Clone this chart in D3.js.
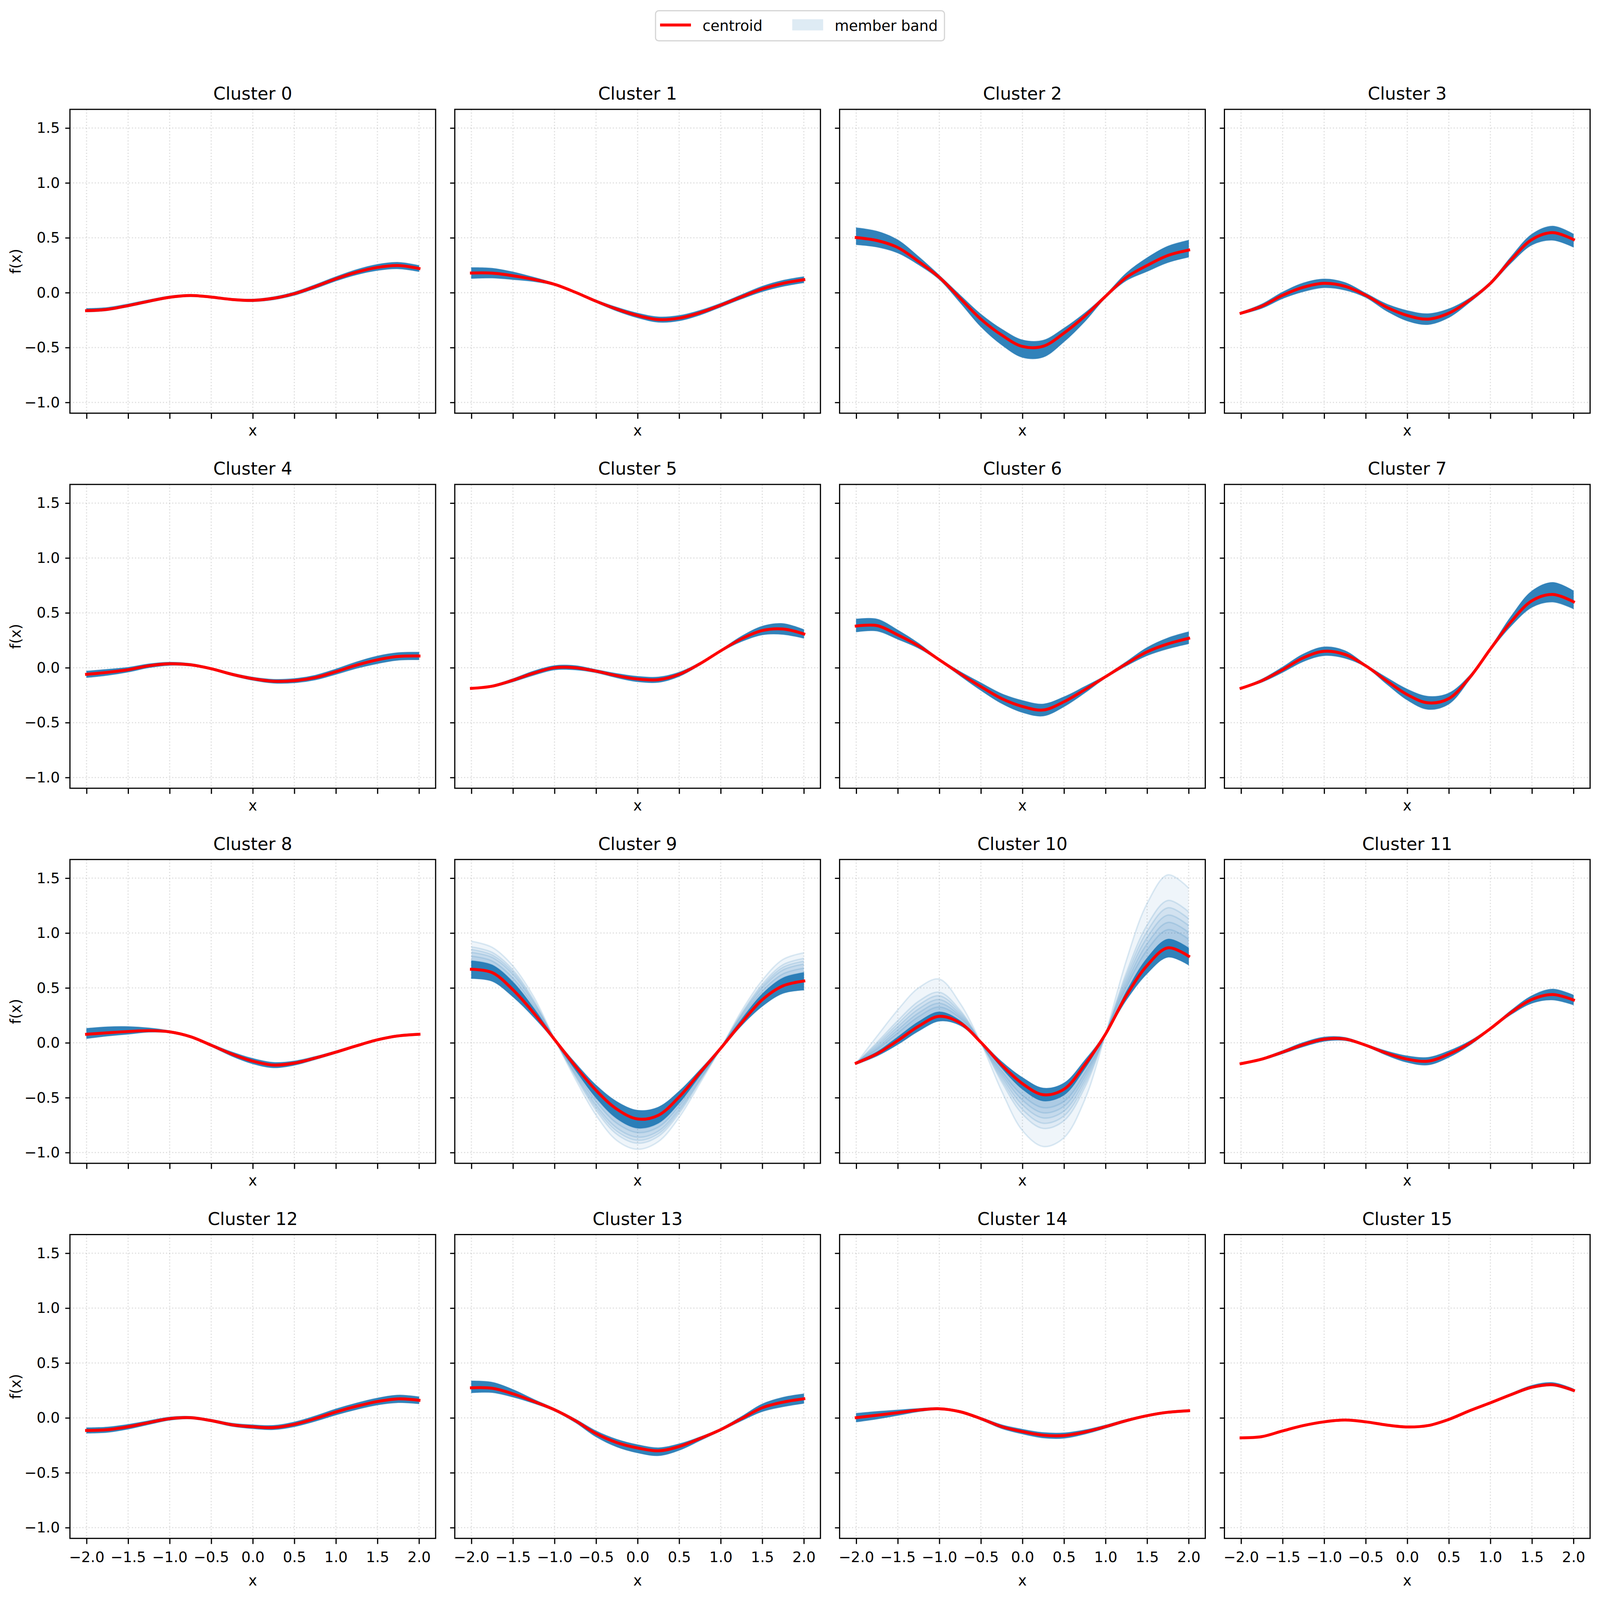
<!DOCTYPE html>
<html><head><meta charset="utf-8">
<script src="https://cdn.jsdelivr.net/npm/d3@7"></script>
<style>
html,body{margin:0;padding:0;background:#fff;overflow:hidden}
svg{display:block}
text{font-family:"DejaVu Sans",sans-serif;fill:#000}
</style>
</head><body>
<svg id="c"></svg>
<script>
// ---------------- data ----------------
const xGrid = [-2,-1.75,-1.5,-1.25,-1,-0.75,-0.5,-0.25,0,0.25,0.5,0.75,1,1.25,1.5,1.75,2];
const xTicks = [-2,-1.5,-1,-0.5,0,0.5,1,1.5,2];
const yTicks = [-1,-0.5,0,0.5,1,1.5];
const clusterNames = d3.range(16).map(i => "Cluster " + i);
const legendLabels = ["centroid", "member band"];

const centroids = [
  [-0.164,-0.152,-0.118,-0.078,-0.042,-0.026,-0.040,-0.062,-0.070,-0.051,-0.009,0.055,0.126,0.187,0.230,0.247,0.220],
  [0.179,0.178,0.154,0.121,0.076,0.004,-0.078,-0.150,-0.208,-0.245,-0.232,-0.183,-0.114,-0.038,0.034,0.085,0.118],
  [0.502,0.475,0.411,0.284,0.139,-0.051,-0.241,-0.386,-0.490,-0.488,-0.368,-0.214,-0.033,0.139,0.248,0.339,0.388],
  [-0.187,-0.123,-0.024,0.049,0.085,0.058,-0.024,-0.132,-0.208,-0.241,-0.187,-0.069,0.085,0.300,0.484,0.547,0.484],
  [-0.060,-0.042,-0.018,0.018,0.036,0.027,-0.009,-0.060,-0.100,-0.123,-0.118,-0.090,-0.036,0.024,0.072,0.103,0.107],
  [-0.188,-0.168,-0.114,-0.049,0.000,0.000,-0.031,-0.072,-0.103,-0.109,-0.060,0.036,0.154,0.263,0.339,0.353,0.308],
  [0.380,0.384,0.299,0.199,0.072,-0.054,-0.172,-0.281,-0.353,-0.385,-0.310,-0.200,-0.082,0.036,0.145,0.217,0.268],
  [-0.187,-0.118,-0.018,0.091,0.150,0.121,0.018,-0.118,-0.245,-0.320,-0.281,-0.090,0.170,0.420,0.610,0.668,0.601],
  [0.078,0.091,0.103,0.111,0.100,0.056,-0.022,-0.103,-0.167,-0.203,-0.185,-0.139,-0.085,-0.027,0.027,0.063,0.078],
  [0.670,0.640,0.483,0.272,0.030,-0.211,-0.433,-0.604,-0.694,-0.660,-0.493,-0.272,-0.050,0.181,0.392,0.519,0.563],
  [-0.185,-0.100,0.020,0.151,0.241,0.181,0.004,-0.201,-0.372,-0.473,-0.423,-0.200,0.080,0.430,0.704,0.865,0.789],
  [-0.190,-0.149,-0.085,-0.016,0.033,0.035,-0.022,-0.094,-0.149,-0.167,-0.103,-0.004,0.129,0.277,0.395,0.440,0.390],
  [-0.115,-0.108,-0.081,-0.043,-0.007,0.002,-0.025,-0.063,-0.081,-0.088,-0.059,-0.007,0.054,0.106,0.149,0.173,0.160],
  [0.274,0.270,0.219,0.150,0.074,-0.025,-0.143,-0.225,-0.274,-0.300,-0.261,-0.188,-0.107,-0.007,0.092,0.143,0.174],
  [0.002,0.024,0.047,0.071,0.083,0.056,-0.007,-0.080,-0.125,-0.158,-0.161,-0.129,-0.080,-0.025,0.020,0.051,0.065],
  [-0.182,-0.171,-0.119,-0.070,-0.036,-0.020,-0.036,-0.065,-0.083,-0.070,-0.014,0.065,0.137,0.212,0.279,0.302,0.250]
];

// spread of the dense member band above / below the centroid
const bandUp = [
  [0.02,0.018,0.016,0.014,0.012,0.01,0.01,0.01,0.012,0.014,0.016,0.018,0.02,0.024,0.028,0.03,0.028],
  [0.05,0.045,0.035,0.02,0.01,0.01,0.012,0.018,0.022,0.025,0.025,0.022,0.018,0.02,0.025,0.028,0.028],
  [0.09,0.085,0.07,0.045,0.02,0.03,0.045,0.055,0.06,0.055,0.045,0.03,0.015,0.04,0.07,0.085,0.09],
  [0.01,0.02,0.03,0.04,0.04,0.035,0.02,0.03,0.045,0.05,0.04,0.02,0.015,0.03,0.05,0.06,0.05],
  [0.03,0.028,0.022,0.018,0.015,0.012,0.01,0.012,0.015,0.018,0.02,0.022,0.025,0.03,0.035,0.035,0.035],
  [0.005,0.01,0.015,0.02,0.02,0.02,0.015,0.02,0.025,0.025,0.02,0.012,0.01,0.025,0.04,0.05,0.04],
  [0.064,0.06,0.045,0.025,0.01,0.02,0.035,0.045,0.055,0.055,0.045,0.03,0.012,0.02,0.04,0.055,0.06],
  [0.005,0.015,0.025,0.035,0.04,0.035,0.012,0.03,0.05,0.06,0.05,0.02,0.015,0.05,0.09,0.11,0.10],
  [0.054,0.055,0.045,0.025,0.01,0.01,0.012,0.02,0.025,0.025,0.02,0.015,0.012,0.01,0.01,0.01,0.01],
  [0.077,0.069,0.071,0.044,0.015,0.03,0.048,0.069,0.08,0.075,0.053,0.027,0.015,0.033,0.053,0.072,0.077],
  [0.012,0.019,0.034,0.042,0.041,0.021,0.012,0.031,0.056,0.061,0.057,0.042,0.012,0.038,0.068,0.08,0.075],
  [0.005,0.01,0.015,0.02,0.02,0.015,0.01,0.02,0.03,0.035,0.03,0.02,0.01,0.02,0.035,0.05,0.045],
  [0.025,0.025,0.022,0.018,0.015,0.012,0.012,0.015,0.018,0.02,0.022,0.025,0.028,0.03,0.032,0.035,0.032],
  [0.063,0.055,0.04,0.02,0.012,0.015,0.025,0.03,0.03,0.028,0.025,0.015,0.012,0.02,0.035,0.045,0.045],
  [0.04,0.035,0.025,0.015,0.01,0.01,0.012,0.018,0.022,0.025,0.025,0.02,0.015,0.012,0.01,0.01,0.01],
  [0.005,0.005,0.005,0.005,0.005,0.005,0.005,0.005,0.006,0.008,0.01,0.01,0.01,0.012,0.018,0.02,0.015]
];
const bandDown = [
  [0.012,0.012,0.012,0.012,0.01,0.01,0.01,0.01,0.012,0.014,0.016,0.018,0.02,0.024,0.028,0.03,0.028],
  [0.05,0.045,0.035,0.02,0.01,0.01,0.012,0.018,0.022,0.025,0.025,0.022,0.018,0.02,0.025,0.028,0.028],
  [0.065,0.06,0.05,0.03,0.02,0.04,0.07,0.09,0.1,0.1,0.08,0.05,0.015,0.03,0.055,0.065,0.065],
  [0.01,0.02,0.03,0.04,0.04,0.035,0.02,0.035,0.05,0.05,0.04,0.02,0.015,0.03,0.05,0.07,0.07],
  [0.03,0.028,0.022,0.018,0.015,0.012,0.01,0.012,0.015,0.018,0.02,0.022,0.025,0.03,0.035,0.035,0.035],
  [0.005,0.01,0.015,0.02,0.02,0.02,0.015,0.02,0.025,0.025,0.02,0.012,0.01,0.025,0.04,0.05,0.04],
  [0.054,0.05,0.04,0.022,0.01,0.02,0.035,0.045,0.055,0.055,0.045,0.03,0.012,0.02,0.035,0.045,0.05],
  [0.005,0.015,0.025,0.035,0.04,0.035,0.012,0.03,0.05,0.06,0.05,0.02,0.015,0.04,0.06,0.07,0.065],
  [0.04,0.03,0.025,0.015,0.01,0.01,0.012,0.02,0.025,0.025,0.02,0.015,0.012,0.01,0.01,0.01,0.01],
  [0.085,0.08,0.065,0.04,0.015,0.036,0.068,0.086,0.083,0.072,0.056,0.029,0.015,0.026,0.06,0.069,0.083],
  [0.012,0.021,0.036,0.045,0.044,0.023,0.012,0.029,0.051,0.057,0.053,0.038,0.012,0.042,0.074,0.086,0.081],
  [0.005,0.01,0.015,0.02,0.02,0.015,0.01,0.02,0.03,0.035,0.03,0.02,0.01,0.02,0.035,0.05,0.045],
  [0.025,0.025,0.022,0.018,0.015,0.012,0.012,0.015,0.018,0.02,0.022,0.025,0.028,0.03,0.032,0.035,0.032],
  [0.046,0.04,0.03,0.018,0.012,0.018,0.03,0.04,0.045,0.045,0.035,0.02,0.012,0.02,0.035,0.042,0.042],
  [0.04,0.035,0.025,0.015,0.01,0.01,0.012,0.018,0.022,0.025,0.025,0.02,0.015,0.012,0.01,0.01,0.01],
  [0.005,0.005,0.005,0.005,0.005,0.005,0.005,0.005,0.006,0.008,0.008,0.008,0.008,0.01,0.012,0.012,0.012]
];

// sparse wide-amplitude members (faint lines) in clusters 9 and 10
const c9Members = [
  [0.747,0.709,0.554,0.316,0.032,-0.247,-0.501,-0.690,-0.777,-0.732,-0.549,-0.301,-0.050,0.214,0.445,0.591,0.640],
  [0.790,0.745,0.590,0.338,0.033,-0.265,-0.535,-0.733,-0.818,-0.768,-0.577,-0.316,-0.050,0.230,0.472,0.628,0.680],
  [0.823,0.778,0.625,0.361,0.033,-0.282,-0.569,-0.776,-0.860,-0.804,-0.605,-0.331,-0.050,0.246,0.499,0.664,0.717],
  [0.850,0.800,0.645,0.375,0.034,-0.294,-0.592,-0.805,-0.888,-0.828,-0.624,-0.340,-0.050,0.257,0.516,0.688,0.743],
  [0.874,0.824,0.665,0.390,0.034,-0.306,-0.615,-0.833,-0.915,-0.852,-0.643,-0.350,-0.050,0.268,0.534,0.712,0.769],
  [0.925,0.870,0.700,0.420,0.035,-0.330,-0.660,-0.890,-0.970,-0.900,-0.680,-0.370,-0.050,0.290,0.570,0.760,0.820]
];
const c10Members = [
  [-0.185,-0.060,0.090,0.238,0.326,0.226,0.003,-0.261,-0.479,-0.591,-0.534,-0.280,0.080,0.510,0.846,1.031,0.944],
  [-0.185,-0.045,0.118,0.272,0.360,0.244,0.002,-0.285,-0.522,-0.638,-0.578,-0.312,0.080,0.542,0.902,1.097,1.006],
  [-0.185,-0.028,0.146,0.308,0.394,0.262,0.002,-0.309,-0.565,-0.685,-0.622,-0.344,0.080,0.574,0.959,1.164,1.068],
  [-0.185,-0.012,0.174,0.343,0.428,0.280,0.001,-0.333,-0.608,-0.733,-0.666,-0.376,0.080,0.606,1.015,1.230,1.130],
  [-0.185,0.004,0.202,0.378,0.461,0.297,0.001,-0.356,-0.650,-0.780,-0.710,-0.408,0.080,0.638,1.072,1.297,1.193],
  [-0.185,0.060,0.300,0.500,0.580,0.360,0.000,-0.440,-0.800,-0.945,-0.865,-0.520,0.080,0.750,1.270,1.530,1.410]
];
const extraMembers = {9: c9Members, 10: c10Members};

// ---------------- layout (reference frame 5010 x 4155, fitted to the viewport) ----------------
const VW = window.innerWidth || 5010, VH = window.innerHeight || 4155;
const sx = VW / 5010, sy = VH / 4155, sf = Math.sqrt(sx * sy);
const W = 1145 * sx, H = 789 * sy;
const colLeft = c => (219 + 1205 * c) * sx;
const rowTop = r => (284 + 974 * r) * sy;
const PT = 300 / 72;           // px per point in reference frame
const fsTick = 10 * PT * sf, fsTitle = 12 * PT * sf;
const lw = 0.8 * PT * sf;
const blue = "#1f77b4";

const svg = d3.select("#c").attr("width", VW).attr("height", VH);
svg.append("rect").attr("width", VW).attr("height", VH).attr("fill", "#fff");

const x = d3.scaleLinear().domain([-2.2, 2.2]).range([0, W]);
const y = d3.scaleLinear().domain([-1.098, 1.67]).range([H, 0]);
const fmt = d3.format(".1f");
const curve = d3.curveCatmullRom.alpha(0.5);

const line = d3.line().x(d => x(d.x)).y(d => y(d.v)).curve(curve);
const area = d3.area().x(d => x(d.x)).y0(d => y(d.lo)).y1(d => y(d.hi)).curve(curve);

centroids.forEach((cen, k) => {
  const r = Math.floor(k / 4), c = k % 4;
  const bottom = r === 3, left = c === 0;
  const g = svg.append("g").attr("transform", `translate(${colLeft(c)},${rowTop(r)})`);

  g.append("clipPath").attr("id", "clip" + k).append("rect").attr("width", W).attr("height", H);

  // grid
  const grid = g.append("g").attr("stroke", "#b0b0b0").attr("stroke-opacity", 0.4)
    .attr("stroke-width", lw).attr("stroke-dasharray", `${lw},${1.65 * lw}`);
  xTicks.forEach(t => grid.append("line").attr("x1", x(t)).attr("x2", x(t)).attr("y1", 0).attr("y2", H));
  yTicks.forEach(t => grid.append("line").attr("y1", y(t)).attr("y2", y(t)).attr("x1", 0).attr("x2", W));

  const plot = g.append("g").attr("clip-path", `url(#clip${k})`);

  // faint wide members
  (extraMembers[k] || []).forEach(m => {
    const pts = xGrid.map((xv, i) => ({x: xv, lo: cen[i], hi: m[i], v: m[i]}));
    plot.append("path").attr("d", area(pts)).attr("fill", blue).attr("fill-opacity", 0.07);
    plot.append("path").attr("d", line(pts)).attr("fill", "none").attr("stroke", blue)
      .attr("stroke-opacity", 0.15).attr("stroke-width", PT * sf);
  });

  // dense member band
  const band = xGrid.map((xv, i) => ({x: xv, lo: cen[i] - bandDown[k][i], hi: cen[i] + bandUp[k][i]}));
  plot.append("path").attr("d", area(band)).attr("fill", blue).attr("fill-opacity", 0.92)
    .attr("stroke", blue).attr("stroke-opacity", 0.5).attr("stroke-width", 2 * sf);

  // centroid
  const cpts = xGrid.map((xv, i) => ({x: xv, v: cen[i]}));
  g.append("path").attr("d", line(cpts)).attr("fill", "none").attr("stroke", "#ff0000")
    .attr("stroke-width", 2 * PT * sf).attr("stroke-linecap", "square");

  // axes
  const ax = g.append("g").attr("transform", `translate(0,${H})`)
    .call(d3.axisBottom(x).tickValues(xTicks).tickSize(3.5 * PT * sy).tickPadding(20 * sy)
      .tickFormat(bottom ? fmt : () => ""));
  const ay = g.append("g")
    .call(d3.axisLeft(y).tickValues(yTicks).tickSize(3.5 * PT * sx).tickPadding(17 * sx)
      .tickFormat(left ? fmt : () => ""));
  [ax, ay].forEach(a => {
    a.select(".domain").remove();
    a.selectAll("line").attr("stroke", "#000").attr("stroke-width", lw);
    a.selectAll("text").attr("font-size", fsTick).attr("font-family", "DejaVu Sans").attr("fill", "#000");
    a.attr("font-size", null).attr("font-family", null);
  });

  // spine
  g.append("rect").attr("width", W).attr("height", H).attr("fill", "none")
    .attr("stroke", "#000").attr("stroke-width", lw);

  // title & labels
  g.append("text").attr("x", W / 2).attr("y", -25 * sy).attr("text-anchor", "middle")
    .attr("font-size", fsTitle).text(clusterNames[k]);
  g.append("text").attr("x", W / 2).attr("y", H + (bottom ? 122 : 58) * sy).attr("text-anchor", "middle")
    .attr("font-size", fsTick).text("x");
  if (left) {
    g.append("text").attr("transform", `translate(${(49 - 219) * sx},${H / 2}) rotate(-90)`)
      .attr("text-anchor", "middle").attr("dy", "0.35em").attr("font-size", fsTick).text("f(x)");
  }
});

// legend: laid out from measured text widths, centred on the figure
const lg = svg.append("g");
const box = lg.append("rect").attr("fill", "#fff").attr("stroke", "#d5d5d5")
  .attr("stroke-width", lw).attr("rx", 9 * sf);
const t1 = lg.append("text").attr("font-size", fsTick).attr("y", 80 * sy).text(legendLabels[0]);
const t2 = lg.append("text").attr("font-size", fsTick).attr("y", 80 * sy).text(legendLabels[1]);
const w1 = t1.node().getComputedTextLength(), w2 = t2.node().getComputedTextLength();
const padL = 13 * sf, handle = 88 * sf, gapH = 33 * sf, gapCol = 85 * sf, padR = 19 * sf;
const total = padL + handle + gapH + w1 + gapCol + handle + gapH + w2 + padR;
let cx = VW / 2 - total / 2;
box.attr("x", cx).attr("y", 28 * sy).attr("width", total).attr("height", 78 * sy);
lg.append("line").attr("x1", cx + padL).attr("x2", cx + padL + handle).attr("y1", 65 * sy).attr("y2", 65 * sy)
  .attr("stroke", "#ff0000").attr("stroke-width", 2 * PT * sf);
t1.attr("x", cx + padL + handle + gapH);
const c2 = cx + padL + handle + gapH + w1 + gapCol;
lg.append("rect").attr("x", c2).attr("y", 50 * sy).attr("width", handle).attr("height", 29 * sy)
  .attr("fill", blue).attr("fill-opacity", 0.15);
t2.attr("x", c2 + handle + gapH);
</script>
</body></html>
